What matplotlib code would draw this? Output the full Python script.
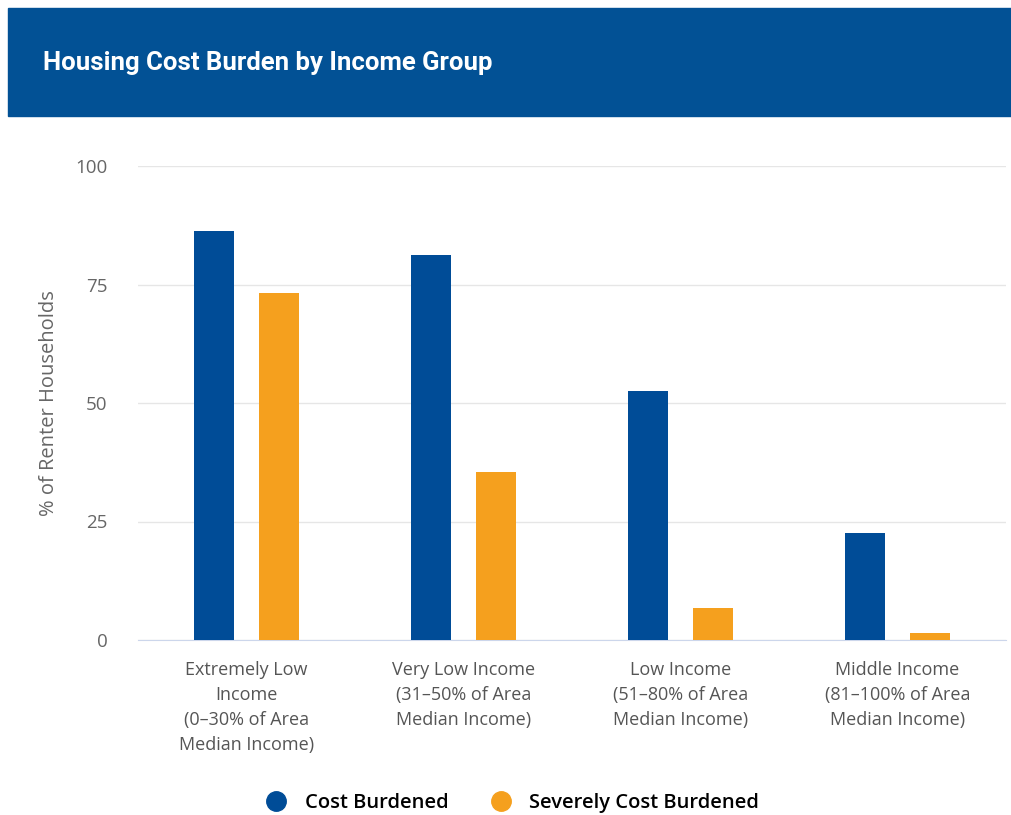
import matplotlib.pyplot as plt
import numpy as np
from matplotlib.patches import Rectangle
from matplotlib.lines import Line2D

# Data
categories = ['Extremely Low\nIncome\n(0–30% of Area\nMedian Income)',
              'Very Low Income\n(31–50% of Area\nMedian Income)',
              'Low Income\n(51–80% of Area\nMedian Income)',
              'Middle Income\n(81–100% of Area\nMedian Income)']
cost_burdened = [86.2, 81.3, 52.6, 22.6]
severely_burdened = [73.3, 35.5, 6.7, 1.5]
series_names = ['Cost Burdened', 'Severely Cost Burdened']
yticks = [0, 25, 50, 75, 100]

blue = '#004C97'
orange = '#F5A01E'
plt.rcParams['font.family'] = ['Open Sans', 'DejaVu Sans']

fig = plt.figure(figsize=(10.11, 8.15), dpi=100)

# header band
fig.patches.append(Rectangle((8 / 1011, 1 - 116 / 815), 1 - 8 / 1011, 108 / 815,
                             transform=fig.transFigure, color='#025195', zorder=0))
fig.text(43 / 1011, 1 - 63 / 815, 'Housing Cost Burden by Income Group',
         color='white', fontsize=18.5, fontweight='bold', va='center',
         family=['Roboto', 'DejaVu Sans'])

ax = fig.add_axes([138 / 1011, 175 / 815, 868 / 1011, 474 / 815])
x = np.arange(len(categories))
w = 0.185
ax.bar(x - 0.15, cost_burdened, w, color=blue, zorder=3)
ax.bar(x + 0.15, severely_burdened, w, color=orange, zorder=3)

ax.set_xlim(-0.5, 3.5)
ax.set_ylim(0, 100)
ax.set_yticks(yticks)
ax.yaxis.grid(True, color='#e6e6e6', linewidth=1)
ax.set_axisbelow(True)
for s in ['top', 'right', 'left']:
    ax.spines[s].set_visible(False)
ax.spines['bottom'].set_color('#ccd6eb')
ax.tick_params(axis='y', length=0, pad=22, labelsize=13.5, labelcolor='#666666')
ax.tick_params(axis='x', length=0, pad=15, labelsize=13, labelcolor='#555555')
ax.set_xticks(x)
ax.set_xticklabels(categories, linespacing=1.5, va='top')
ax.set_ylabel('% of Renter Households', fontsize=14.5, color='#666666', labelpad=12)

handles = [Line2D([], [], marker='o', linestyle='', markersize=14, color=c)
           for c in [blue, orange]]
fig.legend(handles, series_names, loc='center', bbox_to_anchor=(0.502, 1 - 803 / 815),
           ncol=2, frameon=False, handletextpad=0.4, columnspacing=1.6,
           prop={'weight': 'semibold', 'size': 14.5})

fig.savefig('out.png', dpi=100, facecolor='white')
